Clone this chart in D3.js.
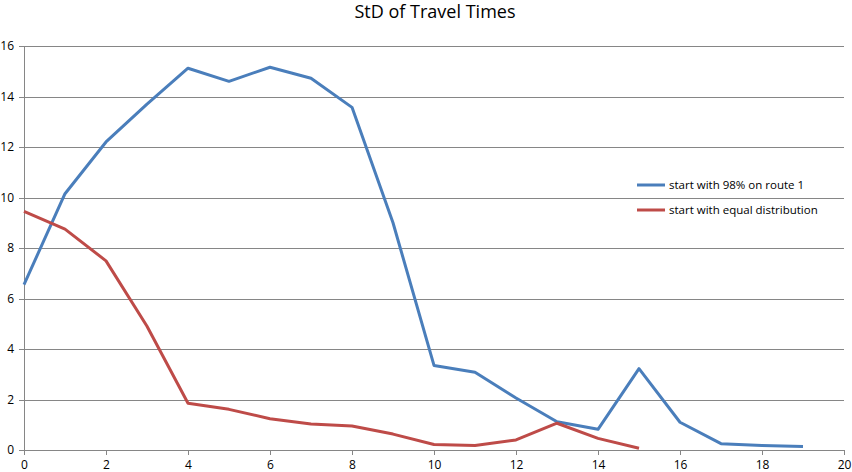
<!DOCTYPE html>
<html>
<head>
<meta charset="utf-8">
<script src="https://cdn.jsdelivr.net/npm/d3@7"></script>
<style>
  body { margin: 0; background: #fff; }
  svg { display: block; font-family: "Open Sans", "Noto Sans", sans-serif; }
</style>
</head>
<body>
<svg id="chart" width="852" height="472"></svg>
<script>
// data
const steps = d3.range(0, 20);
const route1 = [6.55, 10.15, 12.2, 13.7, 15.12, 14.6, 15.16, 14.72, 13.57, 9.0,
  3.35, 3.08, 2.06, 1.12, 0.82, 3.22, 1.1, 0.25, 0.18, 0.14];
const equalDist = [9.45, 8.75, 7.49, 4.9, 1.85, 1.61, 1.24, 1.03, 0.95, 0.63,
  0.22, 0.18, 0.4, 1.06, 0.46, 0.07];
const xTicks = d3.range(0, 21, 2);
const yTicks = d3.range(0, 17, 2);
const seriesNames = ["start with 98% on route 1", "start with equal distribution"];
const colors = ["#4a7ebb", "#be4b48"];

const svg = d3.select("#chart");
const margin = { top: 46, right: 8, bottom: 22, left: 24 };
const width = 852 - margin.left - margin.right;
const height = 472 - margin.top - margin.bottom;

const x = d3.scaleLinear().domain([0, 20]).range([0, width]);
const y = d3.scaleLinear().domain([0, 16]).range([height, 0]);

const chart = svg.append("g").attr("transform", `translate(${margin.left},${margin.top})`);

// title
svg.append("text")
  .attr("x", 435)
  .attr("y", 18)
  .attr("text-anchor", "middle")
  .style("font-size", "18px")
  .style("fill", "#000")
  .text("StD of Travel Times");

// y grid + axis
const yAxis = d3.axisLeft(y)
  .tickValues(yTicks)
  .tickSize(-width)
  .tickPadding(10)
  .tickFormat(d3.format("d"));
const yAxisG = chart.append("g").attr("class", "y axis").call(yAxis);
yAxisG.select(".domain").remove();
yAxisG.selectAll(".tick line").attr("x1", -5).attr("stroke", "#868686").attr("shape-rendering", "crispEdges");
yAxisG.selectAll(".tick text")
  .style("font-size", "12px")
  .style("fill", "#000")
  .style("font-family", "'Open Sans', sans-serif");

// x axis
const xAxis = d3.axisBottom(x)
  .tickValues(xTicks)
  .tickSizeInner(5)
  .tickSizeOuter(0)
  .tickPadding(5)
  .tickFormat(d3.format("d"));
const xAxisG = chart.append("g")
  .attr("class", "x axis")
  .attr("transform", `translate(0,${height})`)
  .call(xAxis);
xAxisG.select(".domain").attr("stroke", "#868686").attr("shape-rendering", "crispEdges");
xAxisG.selectAll(".tick line").attr("stroke", "#868686").attr("shape-rendering", "crispEdges");
xAxisG.selectAll(".tick text")
  .style("font-size", "12px")
  .style("fill", "#000")
  .style("font-family", "'Open Sans', sans-serif");

// y axis line
chart.append("line")
  .attr("x1", 0).attr("x2", 0)
  .attr("y1", 0).attr("y2", height)
  .attr("stroke", "#868686")
  .attr("shape-rendering", "crispEdges");

// lines
const line = d3.line()
  .x((d, i) => x(steps[i]))
  .y(d => y(d));

[route1, equalDist].forEach((vals, k) => {
  chart.append("path")
    .datum(vals)
    .attr("fill", "none")
    .attr("stroke", colors[k])
    .attr("stroke-width", 3)
    .attr("stroke-linejoin", "round")
    .attr("d", line);
});

// legend
const legend = svg.append("g").attr("transform", "translate(637,185)");
seriesNames.forEach((name, k) => {
  const g = legend.append("g").attr("transform", `translate(0,${k * 25})`);
  g.append("line")
    .attr("x1", 0).attr("x2", 28)
    .attr("stroke", colors[k])
    .attr("stroke-width", 3);
  g.append("text")
    .attr("x", 32)
    .attr("dy", "0.35em")
    .style("font-size", "11.5px")
    .style("fill", "#000")
    .text(name);
});
</script>
</body>
</html>
